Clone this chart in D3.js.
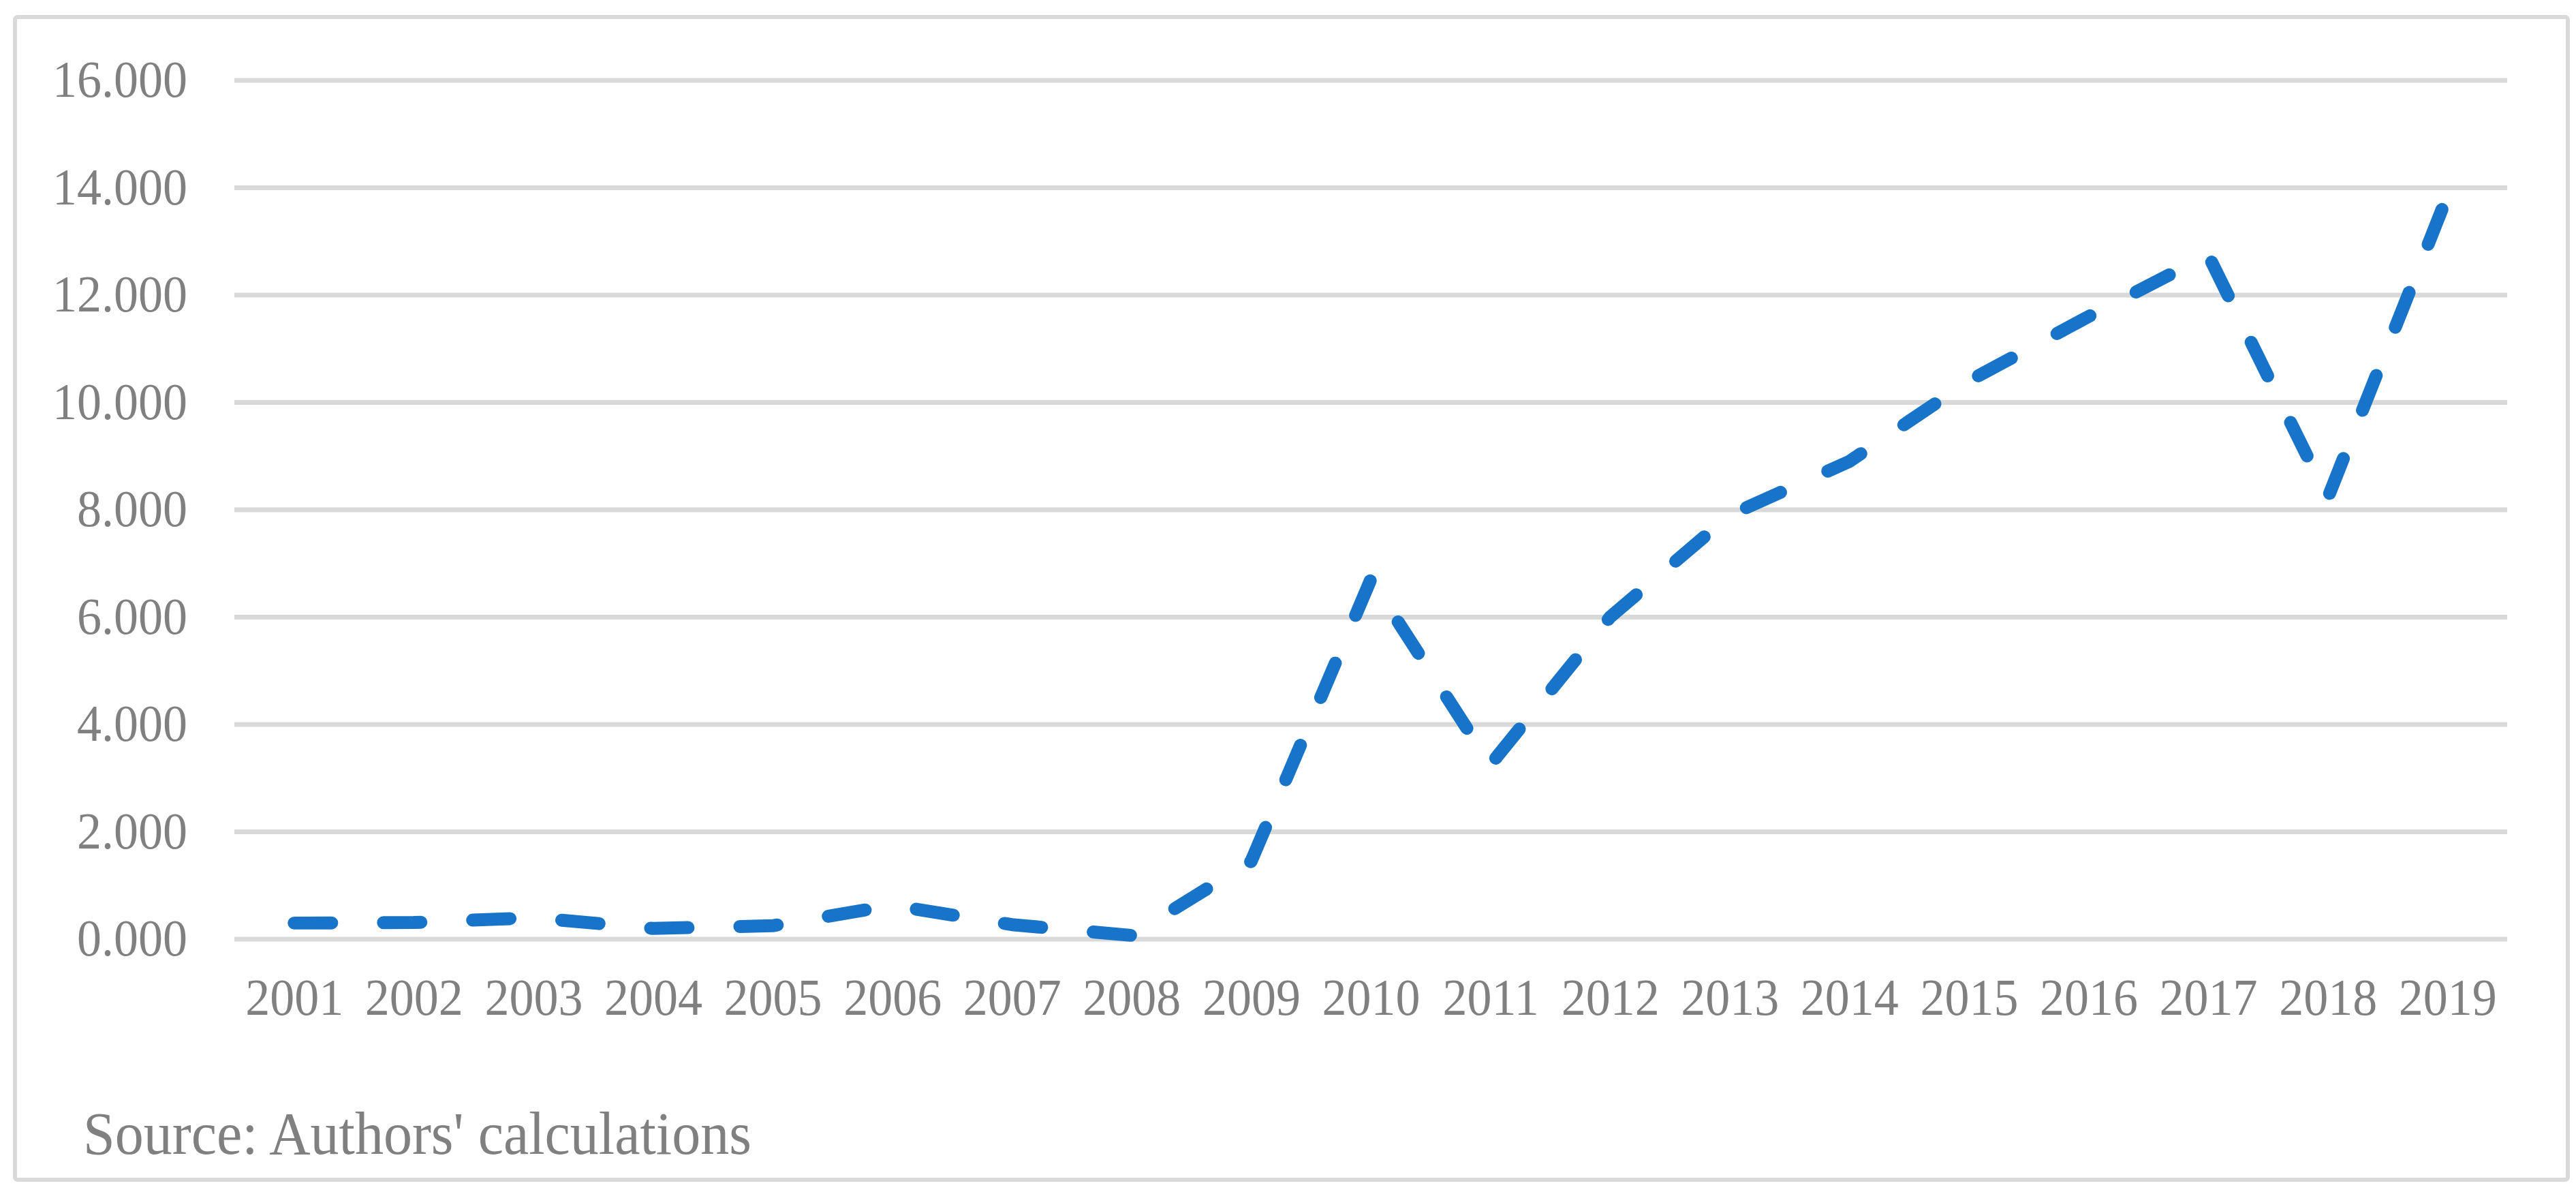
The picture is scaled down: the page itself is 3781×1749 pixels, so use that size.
<!DOCTYPE html>
<html>
<head>
<meta charset="utf-8">
<script src="https://cdn.jsdelivr.net/npm/d3@7"></script>
<style>
  body { margin: 0; background: #fff; }
  text { font-family: "Liberation Serif", "Times New Roman", serif; fill: #808080; }
</style>
</head>
<body>
<svg id="chart"></svg>
<script>
// data
const years = ["2001","2002","2003","2004","2005","2006","2007","2008","2009","2010",
               "2011","2012","2013","2014","2015","2016","2017","2018","2019"];
const values = [0.30, 0.31, 0.40, 0.20, 0.25, 0.63, 0.27, 0.07, 1.45, 6.70,
                3.25, 6.00, 7.90, 8.90, 10.40, 11.60, 12.75, 8.22, 13.85];
const yTicks = [0, 2, 4, 6, 8, 10, 12, 14, 16];
const sourceNote = "Source: Authors' calculations";

const width = 3781, height = 1749;
const m = {top: 118, right: 101, bottom: 371, left: 344};
const stretch = 1.06; // the picture's text is a touch taller than plain Times

const svg = d3.select("#chart")
    .attr("width", width)
    .attr("height", height);

// outer frame
svg.append("rect")
    .attr("x", 22).attr("y", 25)
    .attr("width", 3747).attr("height", 1706)
    .attr("rx", 4)
    .attr("fill", "#fff")
    .attr("stroke", "#d9d9d9")
    .attr("stroke-width", 6);

const x = d3.scalePoint()
    .domain(years)
    .range([m.left, width - m.right])
    .padding(0.5);

const y = d3.scaleLinear()
    .domain([0, 16])
    .range([height - m.bottom, m.top]);

// gridlines
svg.append("g")
    .selectAll("line")
    .data(yTicks)
    .join("line")
    .attr("x1", m.left).attr("x2", width - m.right)
    .attr("y1", d => y(d)).attr("y2", d => y(d))
    .attr("stroke", "#d9d9d9")
    .attr("stroke-width", 7);

// y axis labels
const fmt = d3.format(".3f");
const yAxis = d3.axisLeft(y).tickValues(yTicks).tickFormat(fmt).tickSize(0).tickPadding(0);
const gy = svg.append("g")
    .attr("transform", "translate(275,0)")
    .call(yAxis);
gy.select(".domain").remove();
gy.selectAll("text")
    .attr("x", 0)
    .attr("y", 0)
    .attr("dy", "0.31em")
    .attr("transform", "scale(1," + stretch + ")")
    .style("font-size", "72px")
    .style("font-family", "'Liberation Serif', 'Times New Roman', serif")
    .attr("fill", "#808080");

// x axis labels
const xAxis = d3.axisBottom(x).tickSize(0).tickPadding(0);
const gx = svg.append("g")
    .attr("transform", "translate(0," + (height - m.bottom) + ")")
    .call(xAxis);
gx.select(".domain").remove();
gx.selectAll("text")
    .attr("y", 111 / stretch)
    .attr("dy", 0)
    .attr("transform", "scale(1," + stretch + ")")
    .style("font-size", "72px")
    .style("font-family", "'Liberation Serif', 'Times New Roman', serif")
    .attr("fill", "#808080");

// the series
const line = d3.line()
    .x((d, i) => x(years[i]))
    .y(d => y(d));

svg.append("path")
    .datum(values)
    .attr("d", line)
    .attr("fill", "none")
    .attr("stroke", "#1874c8")
    .attr("stroke-width", 19)
    .attr("stroke-linecap", "round")
    .attr("stroke-linejoin", "round")
    .attr("stroke-dasharray", "55,76");

// source note
svg.append("text")
    .attr("transform", "translate(122,1693) scale(1," + stretch + ")")
    .style("font-size", "84px")
    .text(sourceNote);
</script>
</body>
</html>
